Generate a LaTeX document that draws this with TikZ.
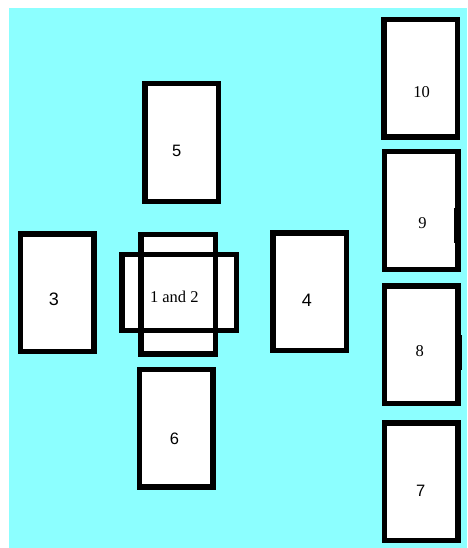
\documentclass[tikz,border=0pt]{standalone}
\usepackage{fontspec}
\setmainfont{Liberation Serif}
\newfontfamily\labsans{Liberation Sans}
\definecolor{bgcyan}{RGB}{140,255,255}
\begin{document}
\begin{tikzpicture}[x=1pt,y=-1pt,
  card/.style={rectangle, draw=black, fill=white, line width=5.5pt, outer sep=0pt, inner sep=0pt},
  tall/.style={card, minimum width=73.5pt, minimum height=117.5pt},
  serlab/.style={inner sep=0pt, anchor=base, font=\fontsize{16.5}{18}\selectfont},
  sanslab/.style={inner sep=0pt, anchor=base, font=\labsans\fontsize{16.5}{18}\selectfont},
  biglab/.style={inner sep=0pt, anchor=base, font=\labsans\fontsize{18}{20}\selectfont},
  sliver/.style={fill=black}]
\useasboundingbox (0,0) rectangle (467,548);
\fill[bgcyan] (9,8) rectangle (467,548);
% right column
\node[tall] (b10) at (420.5,78.5) {};
\node[tall] (b9) at (421,210.5) {};
\node[tall] (b8) at (421.2,344.7) {};
\node[tall] (b7) at (421.2,481.7) {};
\fill[sliver] (453.5,208) rectangle (460.7,243);
\fill[sliver] (458,335) rectangle (462,370);
% left cluster
\node[tall] (b5) at (181.7,142.5) {};
\node[tall] (b3) at (57.3,292.5) {};
\node[tall] (b4) at (309.7,291.7) {};
\node[tall] (b6) at (176.3,428.3) {};
\node[card, draw=none, minimum width=74.5pt, minimum height=119.5pt] (b1) at (178.3,294.2) {};
\node[card, draw=none, minimum width=114.5pt, minimum height=76pt] (b2) at (179.3,292.5) {};
\draw[line width=5.5pt] (b1.north west) rectangle (b1.south east);
\draw[line width=5.5pt] (b2.north west) rectangle (b2.south east);
% labels
\node[serlab] (t10) at (421.5,98) {10};
\node[serlab] (t9) at (422.5,228.5) {9};
\node[serlab] (t8) at (419.7,356.5) {8};
\node[sanslab] (t7) at (420.8,496) {7};
\node[sanslab] (t5) at (176.7,156.5) {5};
\node[biglab] (t3) at (54,305) {3};
\node[biglab] (t4) at (307,306) {4};
\node[sanslab] (t6) at (174.5,444) {6};
\node[serlab] (t12) at (174.3,302.5) {1 and 2};
\end{tikzpicture}
\end{document}
